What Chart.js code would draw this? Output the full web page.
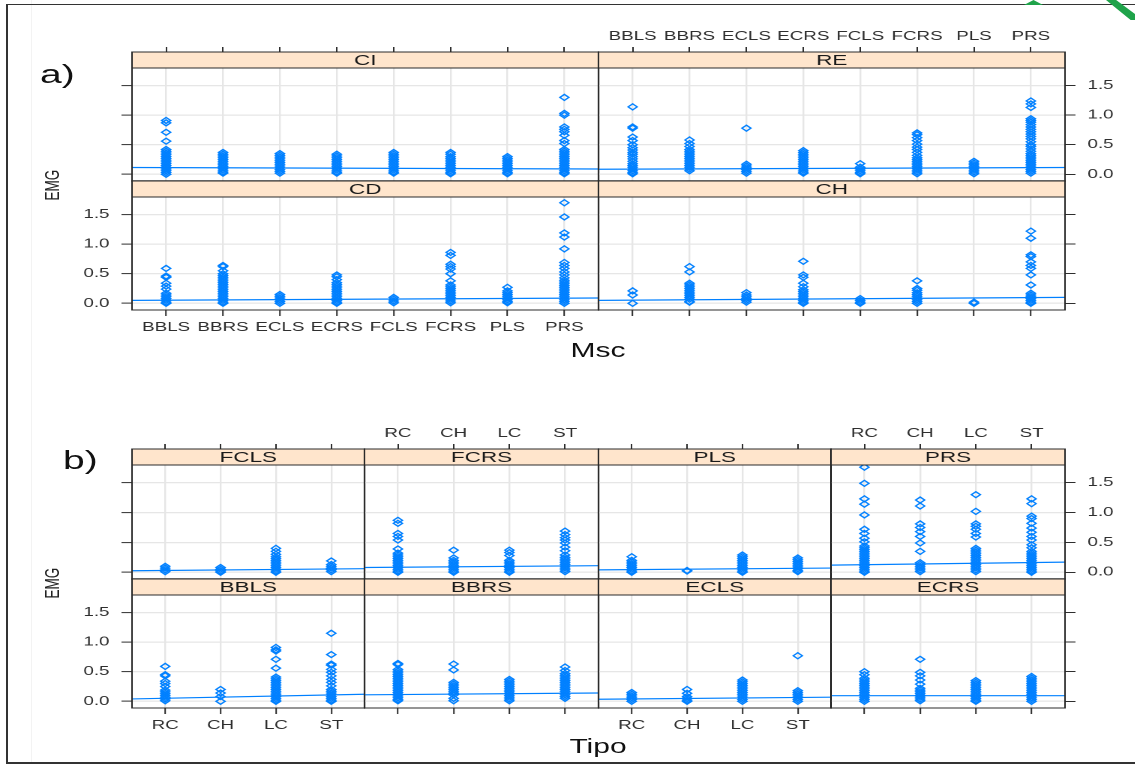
<!DOCTYPE html>
<html>
<head>
<meta charset="utf-8">
<script src="https://cdn.jsdelivr.net/npm/chart.js@4.4.1/dist/chart.umd.min.js"></script>
<style>
html,body{margin:0;padding:0;background:#fff;width:1135px;height:764px;overflow:hidden;position:relative;}
#frame{position:absolute;left:6px;top:4px;width:1140px;height:757px;border-left:2px solid #333;border-top:1.5px solid #333;border-bottom:2px solid #333;}
#faint{position:absolute;left:31px;top:0;width:1px;height:764px;background:#f3f3f3;}
#stage{position:absolute;left:0;top:0;width:757px;height:764px;transform:scaleX(1.5);transform-origin:0 0;}
#stage canvas{position:absolute;}
.t{position:absolute;font-family:"Liberation Sans",Arial,sans-serif;color:#111;white-space:nowrap;line-height:1;}
.g{position:absolute;background:#1fa34a;}
</style>
</head>
<body>
<div id="faint"></div>
<div id="frame"></div>
<div class="g" style="left:1024px;top:0;width:19px;height:5px;clip-path:polygon(50% 0,100% 100%,0 100%);"></div>
<div class="g" style="left:1106px;top:0;width:29px;height:20px;clip-path:polygon(0 0,35% 0,100% 70%,100% 100%,85% 100%);"></div>
<div id="stage">
  <div class="t" style="left:26.7px;top:60.7px;font-size:26px;">a)</div>
  <div class="t" style="left:42px;top:447.3px;font-size:26px;">b)</div>
  <div class="t" style="left:35px;top:185px;font-size:13.5px;transform:translate(-50%,-50%) rotate(-90deg);color:#222;">EMG</div>
  <div class="t" style="left:35px;top:583px;font-size:13.5px;transform:translate(-50%,-50%) rotate(-90deg);color:#222;">EMG</div>
  <div class="t" style="left:398.7px;top:340.2px;font-size:20px;transform:translateX(-50%);">Msc</div>
  <div class="t" style="left:398.7px;top:736.2px;font-size:20px;transform:translateX(-50%);">Tipo</div>
</div>
<script>
// ---------- categories and ticks ----------
const mscCats  = ["BBLS","BBRS","ECLS","ECRS","FCLS","FCRS","PLS","PRS"];
const tipoCats = ["RC","CH","LC","ST"];
const yTicks   = [0, 0.5, 1.0, 1.5];
const yRange   = [-0.113, 1.797];

// ---------- a) EMG by Msc, panels by type ----------
const emgCI = [
  [0.91,0.87,0.71,0.56,0.42,0.39,0.36,0.33,0.30,0.27,0.24,0.21,0.18,0.15,0.12,0.09,0.06,0.03,0.0],
  [0.37,0.34,0.31,0.28,0.25,0.22,0.19,0.16,0.13,0.10,0.07,0.04,0.02],
  [0.35,0.32,0.29,0.26,0.23,0.20,0.17,0.14,0.11,0.08,0.05,0.02],
  [0.34,0.31,0.28,0.25,0.22,0.19,0.16,0.13,0.10,0.07,0.04,0.02],
  [0.37,0.34,0.31,0.28,0.25,0.22,0.19,0.16,0.13,0.10,0.07,0.04,0.02],
  [0.37,0.34,0.30,0.27,0.24,0.21,0.18,0.15,0.12,0.09,0.06,0.03,0.01],
  [0.30,0.27,0.24,0.21,0.18,0.15,0.12,0.09,0.06,0.03,0.01],
  [1.30,1.03,1.00,0.80,0.76,0.72,0.66,0.57,0.52,0.42,0.39,0.36,0.33,0.30,0.27,0.24,0.21,0.18,0.15,0.12,0.09,0.06,0.03,0.01]
];
const emgRE = [
  [1.14,0.80,0.78,0.63,0.57,0.50,0.45,0.41,0.37,0.34,0.30,0.26,0.22,0.18,0.15,0.12,0.09,0.06,0.03,0.01],
  [0.58,0.52,0.47,0.42,0.39,0.36,0.33,0.30,0.27,0.24,0.21,0.18,0.15,0.12,0.09,0.06],
  [0.78,0.17,0.14,0.11,0.08,0.05,0.02],
  [0.40,0.37,0.34,0.31,0.28,0.25,0.22,0.19,0.16,0.13,0.10,0.07,0.04,0.02],
  [0.18,0.12,0.09,0.06,0.03,0.01],
  [0.70,0.67,0.62,0.57,0.51,0.46,0.42,0.37,0.32,0.28,0.25,0.22,0.19,0.16,0.13,0.10,0.07,0.04,0.01],
  [0.22,0.19,0.16,0.13,0.10,0.07,0.04,0.01],
  [1.24,1.19,1.13,0.94,0.91,0.88,0.84,0.80,0.76,0.72,0.68,0.64,0.60,0.55,0.50,0.47,0.43,0.39,0.35,0.32,0.29,0.26,0.23,0.20,0.17,0.14,0.11,0.08,0.05,0.02]
];
const emgCD = [
  [0.59,0.46,0.44,0.34,0.29,0.24,0.17,0.14,0.11,0.08,0.05,0.02,0.0],
  [0.64,0.62,0.55,0.50,0.47,0.44,0.41,0.38,0.35,0.32,0.29,0.26,0.23,0.20,0.17,0.14,0.11,0.08,0.05,0.02,0.0],
  [0.15,0.12,0.09,0.06,0.03,0.0],
  [0.48,0.45,0.40,0.35,0.32,0.29,0.26,0.23,0.20,0.17,0.14,0.11,0.08,0.05,0.02,0.0],
  [0.10,0.07,0.04,0.01],
  [0.86,0.81,0.66,0.62,0.58,0.50,0.38,0.31,0.28,0.25,0.22,0.19,0.16,0.13,0.10,0.07,0.04,0.01],
  [0.27,0.21,0.18,0.15,0.12,0.09,0.06,0.03,0.01],
  [1.70,1.46,1.19,1.12,0.92,0.69,0.64,0.59,0.53,0.48,0.43,0.39,0.36,0.33,0.30,0.27,0.24,0.21,0.18,0.15,0.12,0.09,0.06,0.03,0.0]
];
const emgCH = [
  [0.21,0.14,0.0],
  [0.62,0.53,0.34,0.31,0.28,0.25,0.22,0.19,0.16,0.13,0.10,0.07,0.03,0.02],
  [0.18,0.14,0.11,0.08,0.05,0.02],
  [0.71,0.48,0.44,0.34,0.28,0.23,0.20,0.17,0.14,0.11,0.08,0.05,0.02,0.0],
  [0.08,0.05,0.02,0.0],
  [0.38,0.25,0.22,0.18,0.15,0.12,0.09,0.06,0.03,0.0],
  [0.02,0.0],
  [1.22,1.10,0.82,0.79,0.70,0.64,0.59,0.48,0.31,0.17,0.14,0.11,0.08,0.05,0.02,0.0]
];
// fitted line (value at left and right panel edge)
const fitCI = [0.115, 0.09];
const fitRE = [0.085, 0.115];
const fitCD = [0.05, 0.09];
const fitCH = [0.05, 0.10];

// ---------- b) EMG by Tipo, panels by muscle ----------
const emgFCLS = [
  [0.10,0.07,0.04,0.01],
  [0.08,0.05,0.02,0.0],
  [0.40,0.35,0.30,0.26,0.23,0.20,0.17,0.14,0.11,0.08,0.05,0.02,0.0],
  [0.19,0.13,0.10,0.07,0.04,0.01]
];
const emgFCRS = [
  [0.87,0.82,0.65,0.60,0.54,0.39,0.32,0.29,0.26,0.23,0.20,0.17,0.14,0.11,0.08,0.05,0.02,0.0],
  [0.37,0.24,0.20,0.17,0.14,0.11,0.08,0.05,0.02,0.0],
  [0.37,0.33,0.28,0.20,0.17,0.14,0.11,0.08,0.05,0.02,0.0],
  [0.69,0.63,0.58,0.54,0.49,0.42,0.36,0.29,0.25,0.22,0.19,0.16,0.13,0.10,0.07,0.04,0.01]
];
const emgPLS = [
  [0.26,0.20,0.17,0.14,0.11,0.08,0.05,0.02,0.0],
  [0.03,0.02],
  [0.29,0.26,0.23,0.20,0.17,0.14,0.11,0.08,0.05,0.02,0.0],
  [0.24,0.21,0.18,0.15,0.12,0.09,0.06,0.03,0.01]
];
const emgPRS = [
  [1.76,1.49,1.23,1.14,0.96,0.72,0.65,0.57,0.51,0.44,0.41,0.38,0.35,0.32,0.29,0.26,0.23,0.20,0.17,0.14,0.11,0.08,0.05,0.02,0.0],
  [1.21,1.11,0.81,0.75,0.68,0.60,0.49,0.35,0.16,0.13,0.10,0.07,0.04,0.01],
  [1.30,1.02,0.81,0.77,0.72,0.65,0.59,0.40,0.37,0.34,0.31,0.28,0.25,0.22,0.19,0.16,0.13,0.10,0.07,0.04,0.01],
  [1.23,1.15,0.94,0.90,0.82,0.74,0.67,0.60,0.54,0.46,0.41,0.35,0.32,0.29,0.26,0.23,0.20,0.17,0.14,0.11,0.08,0.05,0.02,0.0]
];
const emgBBLS = [
  [0.59,0.45,0.43,0.34,0.30,0.25,0.19,0.16,0.13,0.10,0.07,0.04,0.01],
  [0.20,0.14,0.08,0.0],
  [0.91,0.87,0.85,0.71,0.56,0.41,0.38,0.35,0.32,0.29,0.26,0.23,0.20,0.17,0.14,0.11,0.08,0.05,0.02,0.0],
  [1.15,0.79,0.63,0.61,0.54,0.49,0.43,0.37,0.32,0.26,0.20,0.17,0.14,0.11,0.08,0.05,0.02,0.0]
];
const emgBBRS = [
  [0.64,0.62,0.54,0.51,0.48,0.45,0.42,0.39,0.36,0.33,0.30,0.27,0.24,0.21,0.18,0.15,0.12,0.09,0.06,0.03,0.01],
  [0.63,0.53,0.32,0.29,0.26,0.23,0.20,0.17,0.14,0.11,0.05,0.01],
  [0.37,0.34,0.31,0.28,0.25,0.22,0.19,0.16,0.13,0.10,0.07,0.04,0.01],
  [0.58,0.52,0.47,0.44,0.41,0.38,0.35,0.32,0.29,0.26,0.23,0.20,0.17,0.14,0.11,0.08,0.05]
];
const emgECLS = [
  [0.15,0.12,0.09,0.06,0.03,0.0],
  [0.20,0.135,0.08,0.05,0.02,0.0],
  [0.36,0.33,0.30,0.27,0.24,0.21,0.18,0.15,0.12,0.09,0.06,0.03,0.0],
  [0.77,0.18,0.15,0.12,0.09,0.06,0.03,0.0]
];
const emgECRS = [
  [0.50,0.45,0.39,0.36,0.33,0.30,0.27,0.24,0.21,0.18,0.15,0.12,0.09,0.06,0.03,0.0],
  [0.71,0.49,0.43,0.36,0.29,0.22,0.19,0.16,0.13,0.10,0.07,0.04,0.01],
  [0.35,0.32,0.29,0.26,0.23,0.20,0.17,0.14,0.11,0.08,0.05,0.02,0.0],
  [0.42,0.39,0.36,0.33,0.30,0.27,0.24,0.21,0.18,0.15,0.12,0.09,0.06,0.03,0.0]
];
const fitFCLS = [0.025, 0.06];
const fitFCRS = [0.08, 0.11];
const fitPLS  = [0.04, 0.07];
const fitPRS  = [0.12, 0.17];
const fitBBLS = [0.04, 0.12];
const fitBBRS = [0.11, 0.14];
const fitECLS = [0.035, 0.07];
const fitECRS = [0.095, 0.095];

// ---------- drawing ----------
const STRIP = 16, L = 50, R = 50, T = 50, B = 40;
const FONT = '"Liberation Sans", Arial, sans-serif';
const BLUE = '#0080ff';
const GRID = '#e6e6e6';
const INK = '#2e2e2e';

const stripPlugin = {
  id: 'strip',
  afterDraw(chart, args, opts) {
    const {ctx, chartArea: a} = chart;
    const w = a.right - a.left;
    ctx.save();
    ctx.fillStyle = '#ffe5cc';
    ctx.fillRect(a.left, a.top - STRIP, w, STRIP);
    ctx.strokeStyle = '#2a2a2a';
    ctx.lineWidth = 1;
    ctx.strokeRect(a.left, a.top - STRIP, w, STRIP);
    ctx.strokeRect(a.left, a.top, w, a.bottom - a.top);
    ctx.fillStyle = '#1a1a1a';
    ctx.font = '15px ' + FONT;
    ctx.textAlign = 'center';
    ctx.textBaseline = 'middle';
    ctx.fillText(opts.label, a.left + w / 2, a.top - STRIP / 2 + 1);
    ctx.restore();
  }
};

function panel(o) {
  const cv = document.createElement('canvas');
  const W = L + o.w + R, H = T + o.h + B;
  cv.width = W; cv.height = H;
  cv.style.left = (o.x - L) + 'px';
  cv.style.top = (o.y - T) + 'px';
  cv.style.width = W + 'px';
  cv.style.height = H + 'px';
  document.getElementById('stage').appendChild(cv);
  const n = o.cats.length;
  const xmin = 0.4, xmax = n + 0.6;
  const pts = [];
  o.values.forEach((arr, i) => arr.forEach(v => pts.push({x: i + 1, y: v})));
  const tf = {family: FONT, size: 12.5};
  const catTicks = s => { s.ticks = o.cats.map((c, i) => ({value: i + 1})); };
  const valTicks = s => { s.ticks = yTicks.map(v => ({value: v})); };
  const catLabel = v => o.cats[Math.round(v) - 1];
  const valLabel = v => Number(v).toFixed(1);
  new Chart(cv, {
    type: 'scatter',
    data: {
      datasets: [
        {type: 'scatter', data: pts, pointStyle: 'rectRot', radius: 3, pointRadius: 3,
         borderColor: BLUE, backgroundColor: 'rgba(0,0,0,0)', borderWidth: 1.2,
         xAxisID: 'x', yAxisID: 'y', order: 2},
        {type: 'line', data: [{x: xmin, y: o.fit[0]}, {x: xmax, y: o.fit[1]}],
         borderColor: BLUE, borderWidth: 1.2, pointRadius: 0, fill: false,
         xAxisID: 'x', yAxisID: 'y', order: 1}
      ]
    },
    options: {
      responsive: false, animation: false, devicePixelRatio: 2,
      layout: {padding: 0},
      events: [],
      plugins: {legend: {display: false}, tooltip: {enabled: false}, strip: {label: o.label}},
      scales: {
        x: {type: 'linear', position: 'bottom', min: xmin, max: xmax,
            afterBuildTicks: catTicks, afterFit: s => { s.height = B; },
            grid: {color: GRID, lineWidth: 1.2, drawTicks: !!o.bottom, tickLength: 6, tickColor: INK, tickWidth: 1},
            border: {display: false},
            ticks: {display: !!o.bottomLab, callback: catLabel, font: tf, color: INK, padding: 4, maxRotation: 0, autoSkip: false}},
        x2: {type: 'linear', position: 'top', min: xmin, max: xmax,
            afterBuildTicks: catTicks, afterFit: s => { s.height = T; },
            grid: {drawOnChartArea: false, drawTicks: !!o.top, tickLength: STRIP + 5, tickColor: INK, tickWidth: 1},
            border: {display: false},
            ticks: {display: !!o.topLab, callback: catLabel, font: tf, color: INK, padding: 3, maxRotation: 0, autoSkip: false}},
        y: {type: 'linear', position: 'left', min: yRange[0], max: yRange[1],
            afterBuildTicks: valTicks, afterFit: s => { s.width = L; },
            grid: {color: GRID, lineWidth: 1.2, drawTicks: !!o.left, tickLength: 7, tickColor: INK, tickWidth: 1},
            border: {display: false},
            ticks: {display: !!o.leftLab, callback: valLabel, font: tf, color: INK, padding: 8}},
        y2: {type: 'linear', position: 'right', min: yRange[0], max: yRange[1],
            afterBuildTicks: valTicks, afterFit: s => { s.width = R; },
            grid: {drawOnChartArea: false, drawTicks: !!o.right, tickLength: 7, tickColor: INK, tickWidth: 1},
            border: {display: false},
            ticks: {display: !!o.rightLab, callback: valLabel, font: tf, color: INK, padding: 8}}
      }
    },
    plugins: [stripPlugin]
  });
}

// a) 2x2 lattice
panel({label: 'CI', cats: mscCats, values: emgCI, fit: fitCI, x: 88,  y: 68,  w: 311, h: 113, top: 1, left: 1});
panel({label: 'RE', cats: mscCats, values: emgRE, fit: fitRE, x: 399, y: 68,  w: 311, h: 113, top: 1, topLab: 1, right: 1, rightLab: 1});
panel({label: 'CD', cats: mscCats, values: emgCD, fit: fitCD, x: 88,  y: 197, w: 311, h: 113, bottom: 1, bottomLab: 1, left: 1, leftLab: 1});
panel({label: 'CH', cats: mscCats, values: emgCH, fit: fitCH, x: 399, y: 197, w: 311, h: 113, bottom: 1, right: 1});

// b) 2x4 lattice
panel({label: 'FCLS', cats: tipoCats, values: emgFCLS, fit: fitFCLS, x: 88,  y: 465, w: 155, h: 114, top: 1, left: 1});
panel({label: 'FCRS', cats: tipoCats, values: emgFCRS, fit: fitFCRS, x: 243, y: 465, w: 156, h: 114, top: 1, topLab: 1});
panel({label: 'PLS',  cats: tipoCats, values: emgPLS,  fit: fitPLS,  x: 399, y: 465, w: 155, h: 114, top: 1});
panel({label: 'PRS',  cats: tipoCats, values: emgPRS,  fit: fitPRS,  x: 554, y: 465, w: 156, h: 114, top: 1, topLab: 1, right: 1, rightLab: 1});
panel({label: 'BBLS', cats: tipoCats, values: emgBBLS, fit: fitBBLS, x: 88,  y: 595, w: 155, h: 113, bottom: 1, bottomLab: 1, left: 1, leftLab: 1});
panel({label: 'BBRS', cats: tipoCats, values: emgBBRS, fit: fitBBRS, x: 243, y: 595, w: 156, h: 113, bottom: 1});
panel({label: 'ECLS', cats: tipoCats, values: emgECLS, fit: fitECLS, x: 399, y: 595, w: 155, h: 113, bottom: 1, bottomLab: 1});
panel({label: 'ECRS', cats: tipoCats, values: emgECRS, fit: fitECRS, x: 554, y: 595, w: 156, h: 113, bottom: 1, right: 1});
</script>
</body>
</html>
